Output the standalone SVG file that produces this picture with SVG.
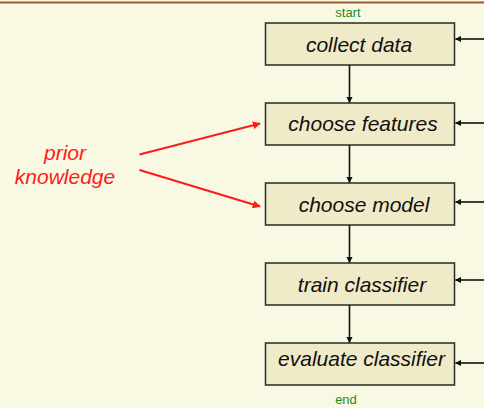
<svg xmlns="http://www.w3.org/2000/svg" width="484" height="408" viewBox="0 0 484 408">
  <defs>
    <style>
      .bg { fill: #f9f9e3; }
      .rule { stroke: #9c5a28; stroke-width: 2; }
      .box { fill: #efeac8; stroke: #2a2a2a; stroke-width: 1.5; }
      .label { font-family: "Liberation Sans", Arial, sans-serif; font-style: italic; font-size: 21px; fill: #111; text-anchor: middle; }
      .term { font-family: "Liberation Sans", Arial, sans-serif; font-size: 13px; fill: #1f8a1f; text-anchor: middle; }
      .prior { font-family: "Liberation Sans", Arial, sans-serif; font-style: italic; font-size: 21px; fill: #ff1a1a; text-anchor: middle; }
      .flow { stroke: #111; stroke-width: 1.6; fill: none; marker-end: url(#tipBlack); }
      .hint { stroke: #ff1a1a; stroke-width: 2; fill: none; marker-end: url(#tipRed); }
    </style>
    <marker id="tipBlack" viewBox="0 0 10 10" refX="9" refY="5" markerWidth="4" markerHeight="4" orient="auto" markerUnits="strokeWidth">
      <path d="M0,0 L10,5 L0,10 z" fill="#111"/>
    </marker>
    <marker id="tipRed" viewBox="0 0 10 10" refX="9" refY="5" markerWidth="4" markerHeight="4" orient="auto" markerUnits="strokeWidth">
      <path d="M0,0 L10,5 L0,10 z" fill="#ff1a1a"/>
    </marker>
  </defs>

  <rect class="bg" x="0" y="0" width="484" height="408"/>
  <line class="rule" x1="0" y1="2.5" x2="484" y2="2.5"/>

  <text class="term" x="348" y="17">start</text>
  <text class="term" x="346" y="404">end</text>

  <g id="collect-data">
    <rect class="box" x="265.5" y="23" width="189" height="42"/>
    <text class="label" x="359" y="52">collect data</text>
  </g>
  <g id="choose-features">
    <rect class="box" x="265.5" y="103" width="189" height="42"/>
    <text class="label" x="363" y="131">choose features</text>
  </g>
  <g id="choose-model">
    <rect class="box" x="265.5" y="183" width="189" height="42"/>
    <text class="label" x="364" y="211.5">choose model</text>
  </g>
  <g id="train-classifier">
    <rect class="box" x="265.5" y="263" width="189" height="42"/>
    <text class="label" x="362" y="291.5">train classifier</text>
  </g>
  <g id="evaluate-classifier">
    <rect class="box" x="265.5" y="343" width="189" height="42"/>
    <text class="label" x="361.5" y="365.5">evaluate classifier</text>
  </g>

  <g id="prior-knowledge">
    <text class="prior" x="65" y="160">prior</text>
    <text class="prior" x="65" y="184">knowledge</text>
  </g>

  <g id="connectors">
    <!-- main sequence -->
    <line class="flow" x1="349.5" y1="65" x2="349.5" y2="102.5"/>
    <line class="flow" x1="349.5" y1="145" x2="349.5" y2="182.5"/>
    <line class="flow" x1="349.5" y1="225" x2="349.5" y2="262.5"/>
    <line class="flow" x1="349.5" y1="305" x2="349.5" y2="342.5"/>
    <!-- feedback entries from the right -->
    <line class="flow" x1="484" y1="39" x2="455.5" y2="39"/>
    <line class="flow" x1="484" y1="123" x2="455.5" y2="123"/>
    <line class="flow" x1="484" y1="202" x2="455.5" y2="202"/>
    <line class="flow" x1="484" y1="280" x2="455.5" y2="280"/>
    <line class="flow" x1="484" y1="363" x2="455.5" y2="363"/>
    <!-- prior knowledge hints -->
    <line class="hint" x1="139.5" y1="154.5" x2="260" y2="123.5"/>
    <line class="hint" x1="139.5" y1="170" x2="260" y2="206.5"/>
  </g>
</svg>
